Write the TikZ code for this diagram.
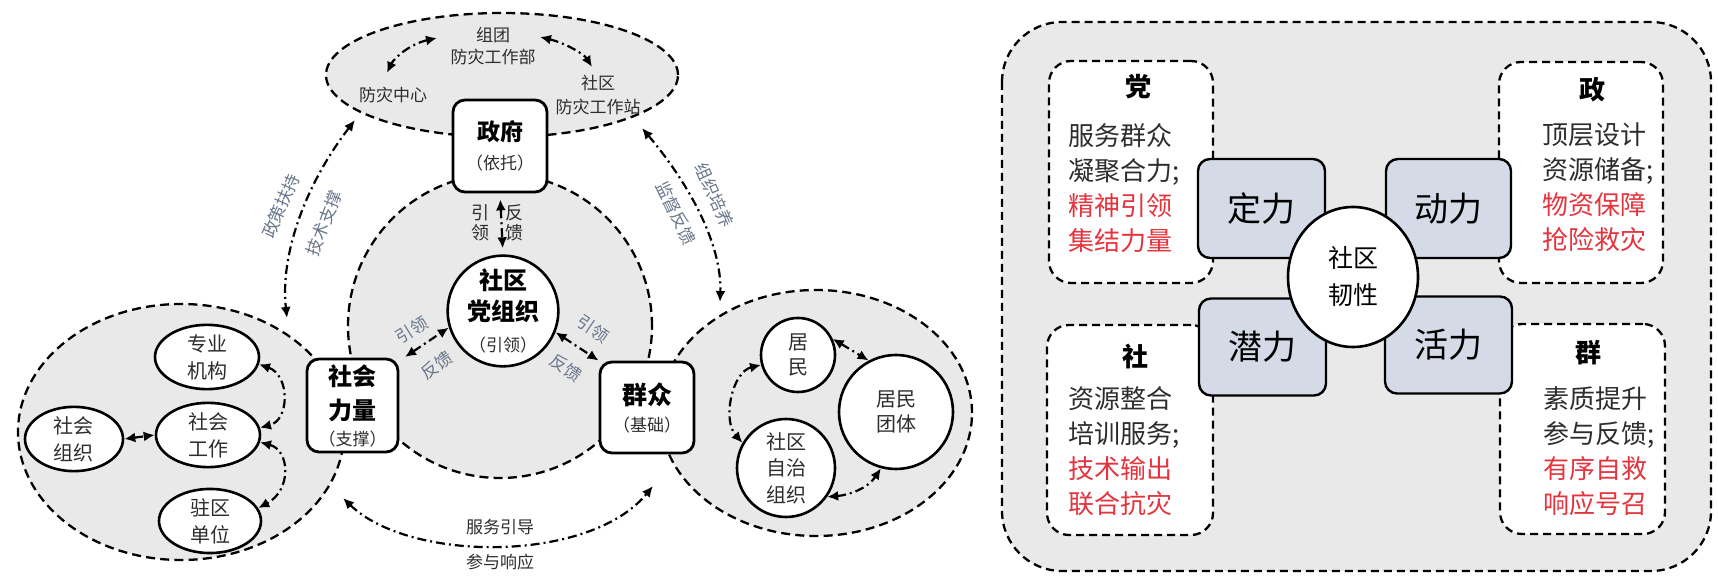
\documentclass[tikz,border=0pt]{standalone}
\usepackage{fontspec}
\setmainfont{Noto Sans CJK SC}
\usetikzlibrary{arrows.meta,shapes.geometric}
\definecolor{panel}{RGB}{233,233,233}
\definecolor{blueb}{RGB}{212,219,231}
\definecolor{redt}{RGB}{228,52,62}
\definecolor{labt}{RGB}{105,118,138}
\definecolor{txt}{RGB}{45,45,45}
\tikzset{
  dsh/.style={dash pattern=on 4.5pt off 2.6pt, line width=1.15pt},
  dshr/.style={dash pattern=on 4pt off 2.5pt, line width=1.15pt},
  dda/.style={dash pattern=on 4.5pt off 2pt on 1pt off 2pt, line width=1.1pt,
    {Latex[length=5.5pt,width=5pt]}-{Latex[length=5.5pt,width=5pt]}},
  grayarea/.style={draw, dsh, fill=panel},
  sbox/.style={draw, line width=1.4pt, fill=white, rounded corners=6pt, inner sep=0pt, align=center, text=black},
  wcirc/.style={circle, draw, line width=1.3pt, fill=white, inner sep=0pt, align=center, text=txt},
  well/.style={ellipse, draw, line width=1.3pt, fill=white, inner sep=0pt, align=center, text=txt,
    font=\fontsize{10}{13.5}\selectfont},
  lab/.style={text=txt, font=\fontsize{8.5}{11}\selectfont, align=center, inner sep=0pt},
  blab/.style={text=labt, font=\fontsize{8.5}{11}\selectfont, align=center, inner sep=0pt},
  dbox/.style={draw, dshr, fill=white, rounded corners=11pt, inner sep=0pt},
  bbox/.style={draw, line width=1.2pt, fill=blueb, rounded corners=6pt, inner sep=0pt,
    font=\fontsize{17}{20}\selectfont, text=black},
  ttl/.style={font=\fontsize{13}{15}\selectfont\bfseries, inner sep=0pt, text=black},
  body/.style={font=\fontsize{13}{17.5}\selectfont, inner sep=0pt, align=left, anchor=west, text=txt}
}
\begin{document}
\begin{tikzpicture}[x=0.5pt,y=-0.5pt]
\useasboundingbox (0,0) rectangle (1718,581);

% ---------------- left panel: gray areas ----------------
\draw[grayarea] (502,75) ellipse [x radius=88pt, y radius=31pt];
\draw[grayarea] (181,432) ellipse [x radius=81.5pt, y radius=64pt];
\draw[grayarea] (816,413) ellipse [x radius=78pt, y radius=61.5pt];
\draw[grayarea] (500,326) circle [radius=76pt];

% top ellipse texts
\node[lab, font=\fontsize{8.5}{11}\selectfont] (zt) at (493,46) {组团\\防灾工作部};
\node[lab] (fzzx) at (393,95) {防灾中心};
\node[lab, font=\fontsize{8.5}{12}\selectfont] (sqz) at (598,95) {社区\\防灾工作站};
\coordinate (t1) at (437,38);
\coordinate (t2) at (387,73);
\coordinate (t3) at (540,37);
\coordinate (t4) at (592,67);
\draw[dda] (t1) .. controls (410,44) and (394,58) .. (t2);
\draw[dda] (t3) .. controls (565,43) and (584,54) .. (t4);

% main nodes
\node[sbox, minimum width=47pt, minimum height=46pt, font=\fontsize{8.5}{14.5}\selectfont] (gov) at (500,146)
  {{\fontsize{11.5}{14.5}\selectfont\bfseries 政府}\\{\color{txt}（依托）}};
\node[wcirc, minimum size=55pt, font=\fontsize{8.5}{15.5}\selectfont, text=black] (party) at (503,311)
  {{\fontsize{12}{15.5}\selectfont\bfseries 社区}\\{\fontsize{12}{15.5}\selectfont\bfseries 党组织}\\{\color{txt}（引领）}};
\node[sbox, minimum width=45.5pt, minimum height=46.5pt, font=\fontsize{8.5}{13}\selectfont] (shlh) at (352.5,405.5)
  {{\fontsize{12}{13}\selectfont\bfseries 社会}\\[4pt]{\fontsize{12}{13}\selectfont\bfseries 力量}\\{\color{txt}（支撑）}};
\node[sbox, minimum width=47pt, minimum height=45.5pt, font=\fontsize{8.5}{13.5}\selectfont] (qz) at (647,407.5)
  {{\fontsize{12.5}{13.5}\selectfont\bfseries 群众}\\{\color{txt}（基础）}};

% government <-> party
\draw[dda, shorten <=3pt, shorten >=3pt] (gov.south) -- (party.north);
\node[lab, font=\fontsize{9}{10}\selectfont] (yl1) at (480,223) {引\\领};
\node[lab, font=\fontsize{9}{10}\selectfont] (fk1) at (514,223) {反\\馈};

% party <-> social forces
\coordinate (la1) at (405,357);
\draw[dda] (la1) -- (party.197);
\node[blab, rotate=32] (yl2) at (412,330) {引领};
\node[blab, rotate=35] (fk2) at (437,365) {反馈};
% party <-> masses
\draw[dda] (party.-22) -- (qz.north west);
\node[blab, rotate=-34] (yl3) at (593,329) {引领};
\node[blab, rotate=-34] (fk3) at (566,368) {反馈};

% big arcs
\coordinate (b1) at (355,120);
\coordinate (b2) at (287,318);
\draw[dda] (b1) .. controls (305,185) and (280,255) .. (b2);
\node[blab, rotate=66] (zc) at (281,206) {政策扶持};
\node[blab, rotate=69] (js) at (324,223) {技术支撑};
\coordinate (b3) at (642,128);
\coordinate (b4) at (720,302);
\draw[dda] (b3) .. controls (690,185) and (722,245) .. (b4);
\node[blab, rotate=-66] (zz) at (714,195) {组织培养};
\node[blab, rotate=-64] (jd) at (676,213) {监督反馈};
\coordinate (b5) at (343,498);
\coordinate (b6) at (653,486);
\draw[dda] (b5) .. controls (410,563) and (590,563) .. (b6);
\node[lab] (fw) at (500,527) {服务引导};
\node[lab] (cy) at (500,562) {参与响应};

% left inner ellipses
\node[well, minimum width=52pt, minimum height=30pt] (zyjg) at (207,357) {专业\\机构};
\node[well, minimum width=52pt, minimum height=28pt] (shgz) at (208,435) {社会\\工作};
\node[well, minimum width=49pt, minimum height=29pt] (shzz) at (74,439) {社会\\组织};
\node[well, minimum width=51pt, minimum height=29pt] (zqdw) at (210,521) {驻区\\单位};
\draw[dda] (shzz.east) -- (shgz.west);
\draw[dda] (zyjg.-8) .. controls (290,375) and (290,420) .. (shgz.8);
\draw[dda] (shgz.-8) .. controls (290,450) and (292,490) .. (zqdw.15);

% right inner circles
\node[wcirc, minimum size=37pt, font=\fontsize{10}{12.5}\selectfont] (jm) at (798,355) {居\\民};
\node[wcirc, minimum size=57pt, font=\fontsize{10}{12.5}\selectfont] (jmtt) at (896,412) {居民\\团体};
\node[wcirc, minimum size=49pt, font=\fontsize{10}{13.25}\selectfont] (sqzz) at (786,468) {社区\\自治\\组织};
\draw[dda] (jm.25) -- (jmtt.118);
\draw[dda] (jm.195) .. controls (732,372) and (722,420) .. (sqzz.150);
\draw[dda] (sqzz.-35) .. controls (850,495) and (868,488) .. (jmtt.-105);

% ---------------- right panel ----------------
\draw[dshr, fill=panel, rounded corners=30pt] (1002,22) rectangle (1711,571);
\node[dbox, minimum width=82pt, minimum height=111pt] (bd) at (1131,172) {};
\node[dbox, minimum width=82pt, minimum height=110.5pt] (bz) at (1581,172.5) {};
\node[dbox, minimum width=83pt, minimum height=105pt] (bs) at (1130,430) {};
\node[dbox, minimum width=82.5pt, minimum height=105pt] (bq) at (1582.5,429) {};

\node[ttl] (td) at (1138,87) {党};
\node[ttl] (tz) at (1592,90) {政};
\node[ttl] (ts) at (1135,357) {社};
\node[ttl] (tq) at (1588,353) {群};

\node[body] (xd) at (1068,188) {服务群众\\凝聚合力;\\\textcolor{redt}{精神引领}\\\textcolor{redt}{集结力量}};
\node[body] (xz) at (1542,187.5) {顶层设计\\资源储备;\\\textcolor{redt}{物资保障}\\\textcolor{redt}{抢险救灾}};
\node[body] (xs) at (1068,451) {资源整合\\培训服务;\\\textcolor{redt}{技术输出}\\\textcolor{redt}{联合抗灾}};
\node[body] (xq) at (1543,451.5) {素质提升\\参与反馈;\\\textcolor{redt}{有序自救}\\\textcolor{redt}{响应号召}};

\node[bbox, minimum width=63.5pt, minimum height=49.5pt] (dl) at (1261.5,208.5) {定力};
\node[bbox, minimum width=62.5pt, minimum height=49.5pt] (dongl) at (1448.5,208.5) {动力};
\node[bbox, minimum width=63.5pt, minimum height=48.5pt] (ql) at (1262.5,347) {潜力};
\node[bbox, minimum width=63.5pt, minimum height=48.5pt] (hl) at (1448.5,345) {活力};

\node[ellipse, draw, line width=1.3pt, fill=white, inner sep=0pt, minimum width=65pt, minimum height=70pt,
  align=center, font=\fontsize{12.5}{18.5}\selectfont] (rx) at (1353,277) {社区\\韧性};
\end{tikzpicture}
\end{document}
